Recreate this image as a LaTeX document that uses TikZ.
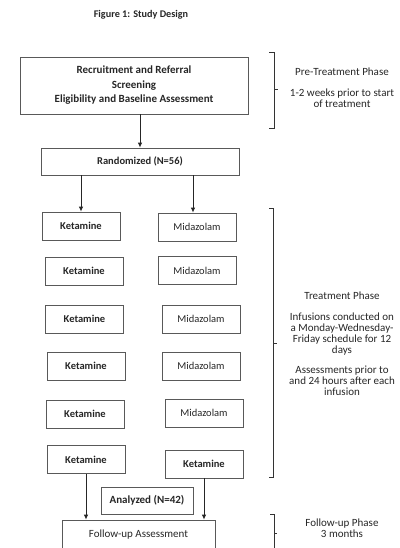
\documentclass[tikz,border=0pt]{standalone}
\usepackage{fontspec}
\setmainfont{Carlito}
\usetikzlibrary{arrows.meta}

\tikzset{
    box/.style={rectangle, draw=black!65, line width=0.6pt, inner sep=0pt, align=center, text=black!85, font=\fontsize{10.5}{11}\selectfont},
    drug/.style={box, minimum width=78pt, minimum height=28pt},
    bold/.style={font=\fontsize{10.5}{11}\selectfont\bfseries},
    note/.style={align=center, text=black!85, font=\fontsize{11}{10.8}\selectfont},
    arrow/.style={-{Latex[length=5pt,width=4.5pt]}, line width=1pt, black!85},
    bracket/.style={line width=0.9pt, black!80}
}

\begin{document}
\begin{tikzpicture}[x=1pt, y=-1pt]
        \clip (0,0) rectangle (399,548);
        \node[text=black!85, font=\fontsize{10.2}{11}\selectfont\bfseries] (title) at (141,15) {Figure 1: Study Design};

        % Define boxes
        \node[box, font=\fontsize{11}{14.5}\selectfont\bfseries, minimum width=228pt, minimum height=57pt] (recruit) at (134,85.5) {
            Recruitment and Referral\\
            Screening\\
            Eligibility and Baseline Assessment
        };
        \node[box, bold, minimum width=198pt, minimum height=27pt] (rand) at (140,161.5) {Randomized (N=56)};

        \node[drug, bold] (keta1) at (81,226) {Ketamine};
        \node[drug, bold] (keta2) at (84,271) {Ketamine};
        \node[drug, bold] (keta3) at (84.5,319) {Ketamine};
        \node[drug, bold] (keta4) at (86,366) {Ketamine};
        \node[drug, bold] (keta5) at (85,414) {Ketamine};
        \node[drug, bold] (keta6) at (86,459.5) {Ketamine};

        \node[drug] (mida1) at (197,227) {Midazolam};
        \node[drug] (mida2) at (197,270.5) {Midazolam};
        \node[drug] (mida3) at (201,319) {Midazolam};
        \node[drug] (mida4) at (201,366) {Midazolam};
        \node[drug] (mida5) at (204,413) {Midazolam};
        \node[drug, bold] (mida6) at (204,464) {Ketamine};

        \node[box, font=\fontsize{11}{11}\selectfont\bfseries, minimum width=92pt, minimum height=27pt] (analyzed) at (147,500.5) {Analyzed (N=42)};
        \node[box, font=\fontsize{11}{11}\selectfont, minimum width=153pt, minimum height=30pt] (follow) at (138.5,535) {Follow-up Assessment};

        % Define phase notes
        \node[note] (pre) at (342,88) {
            Pre-Treatment Phase\\[10pt]
            1-2 weeks prior to start\\
            of treatment
        };
        \node[note] (treat) at (342,344) {
            Treatment Phase\\[10pt]
            Infusions conducted on\\
            a Monday-Wednesday-\\
            Friday schedule for 12\\
            days\\[10pt]
            Assessments prior to\\
            and 24 hours after each\\
            infusion
        };
        \node[note] (fphase) at (342,528.5) {
            Follow-up Phase\\
            3 months
        };

        % Draw arrows
        \draw[arrow] (rand.north |- recruit.south) -- (rand.north);
        \draw[arrow] (rand.south -| keta1) -- (keta1.north);
        \draw[arrow] ([xshift=-4pt]mida1.north |- rand.south) -- ([xshift=-4pt]mida1.north);
        \draw[arrow] (keta6.south) -- (keta6.south |- follow.north);
        \draw[arrow] (mida6.south) -- (mida6.south |- follow.north);

        % Draw brackets
        \draw[bracket] (269,52) -- (274,52) -- (274,128) -- (269,128);
        \draw[bracket] (274,89) -- (278,89);
        \draw[bracket] (269,208) -- (273,208) -- (273,477) -- (269,477);
        \draw[bracket] (273,343) -- (277,343);
        \draw[bracket] (270,514) -- (274,514) -- (274,560);
        \draw[bracket] (274,533) -- (277,533);
\end{tikzpicture}
\end{document}
